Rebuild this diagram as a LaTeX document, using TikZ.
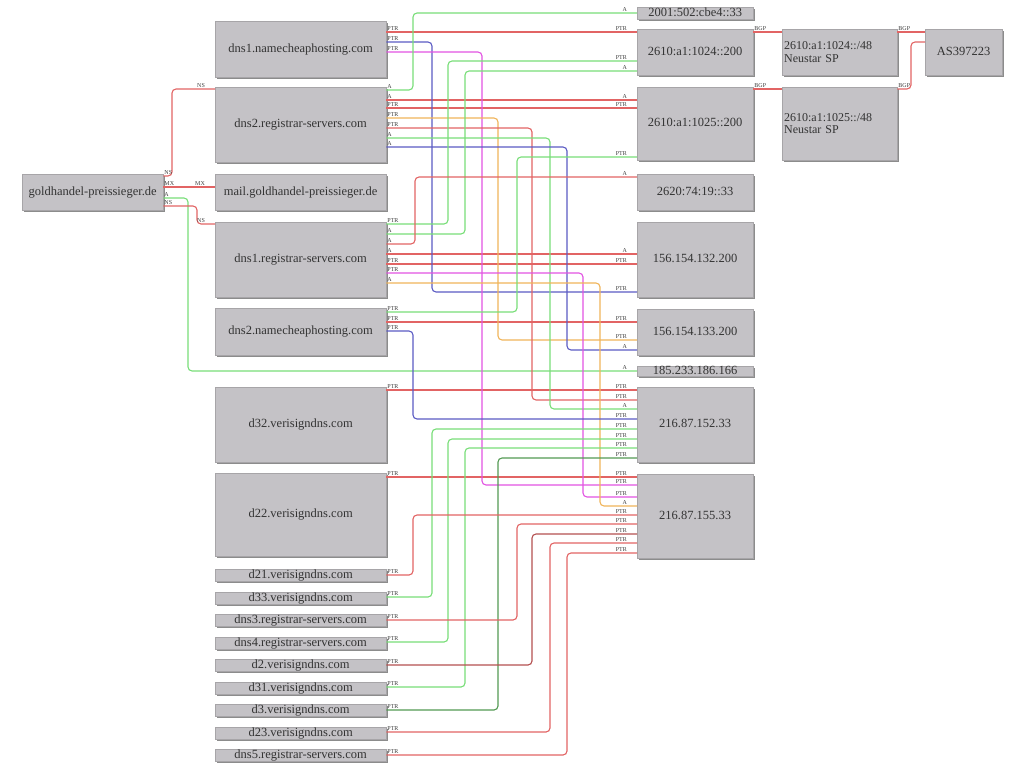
\documentclass[tikz,border=0pt]{standalone}
\usepackage{fontspec}
\setmainfont{Liberation Serif}
\usepackage{xcolor}
\definecolor{BoxGray}{RGB}{196,194,198}
\definecolor{Red}{RGB}{226,100,100}
\definecolor{Green}{RGB}{120,222,120}
\definecolor{Blue}{RGB}{92,92,196}
\definecolor{Pink}{RGB}{226,84,226}
\definecolor{Orange}{RGB}{240,180,90}
\usetikzlibrary{shadows}

% straight link: colour, from, to, y, source label, target label
\newcommand{\direct}[6]{%
  \draw[link, #1] (#2.east |- 0,#4) -- node[pos=0, srclab]{#5} node[pos=1, dstlab]{#6} (#3.west |- 0,#4);}
% routed link: colour, from, y1, x of the vertical, to, y2, source label, target label
\newcommand{\routed}[8]{%
  \draw[link, #1] (#2.east |- 0,#3) -- node[pos=0, srclab]{#7} (#4,#3) -- (#4,#6) -- node[pos=1, dstlab]{#8} (#5.west |- 0,#6);}

\begin{document}
\begin{tikzpicture}[x=1pt, y=-1pt,
  host/.style={anchor=north west, rectangle, fill=BoxGray, draw=BoxGray!85!black, line width=0.3pt,
    inner sep=0pt, text height=8pt, text depth=2pt, text=black!80, font=\fontsize{12.5}{13}\selectfont,
    drop shadow={shadow xshift=2pt, shadow yshift=-2pt, fill=black!45, opacity=1}},
  link/.style={line width=1.1pt, rounded corners=4pt},
  srclab/.style={anchor=south west, inner sep=0.6pt, font=\fontsize{6}{6}\selectfont, text=black!75},
  dstlab/.style={anchor=south east, inner sep=0.6pt, xshift=-9pt, font=\fontsize{6}{6}\selectfont, text=black!75}]

  \fill[white] (0,0) rectangle (1024,768);
  \useasboundingbox (0,0) rectangle (1024,768);

  % Domain and name servers
  \node[host, minimum width=141pt, minimum height=36pt] (gold) at (22,174) {goldhandel-preissieger.de};
  \node[host, minimum width=171pt, minimum height=56pt] (nc1) at (215,21) {dns1.namecheaphosting.com};
  \node[host, minimum width=171pt, minimum height=75pt] (rs2) at (215,87) {dns2.registrar-servers.com};
  \node[host, minimum width=171pt, minimum height=36pt] (mail) at (215,174) {mail.goldhandel-preissieger.de};
  \node[host, minimum width=171pt, minimum height=75pt] (rs1) at (215,222) {dns1.registrar-servers.com};
  \node[host, minimum width=171pt, minimum height=47pt] (nc2) at (215,308) {dns2.namecheaphosting.com};
  \node[host, minimum width=171pt, minimum height=75pt] (d32) at (215,387) {d32.verisigndns.com};
  \node[host, minimum width=171pt, minimum height=83pt] (d22) at (215,473) {d22.verisigndns.com};
  \node[host, minimum width=171pt, minimum height=12pt] (d21) at (215,569) {d21.verisigndns.com};
  \node[host, minimum width=171pt, minimum height=12pt] (d33) at (215,592) {d33.verisigndns.com};
  \node[host, minimum width=171pt, minimum height=12pt] (rs3) at (215,614) {dns3.registrar-servers.com};
  \node[host, minimum width=171pt, minimum height=12pt] (rs4) at (215,637) {dns4.registrar-servers.com};
  \node[host, minimum width=171pt, minimum height=12pt] (d2) at (215,659) {d2.verisigndns.com};
  \node[host, minimum width=171pt, minimum height=12pt] (d31) at (215,682) {d31.verisigndns.com};
  \node[host, minimum width=171pt, minimum height=12pt] (d3) at (215,704) {d3.verisigndns.com};
  \node[host, minimum width=171pt, minimum height=12pt] (d23) at (215,727) {d23.verisigndns.com};
  \node[host, minimum width=171pt, minimum height=12pt] (rs5) at (215,749) {dns5.registrar-servers.com};

  % Addresses
  \node[host, minimum width=116pt, minimum height=12pt] (v6a) at (637,7) {2001:502:cbe4::33};
  \node[host, minimum width=116pt, minimum height=46pt] (ipA) at (637,29) {2610:a1:1024::200};
  \node[host, minimum width=116pt, minimum height=73pt] (ipB) at (637,87) {2610:a1:1025::200};
  \node[host, minimum width=116pt, minimum height=36pt] (ipC) at (637,174) {2620:74:19::33};
  \node[host, minimum width=116pt, minimum height=75pt] (ipD) at (637,222) {156.154.132.200};
  \node[host, minimum width=116pt, minimum height=46pt] (ipE) at (637,309) {156.154.133.200};
  \node[host, minimum width=116pt, minimum height=10pt] (ipF) at (637,366) {185.233.186.166};
  \node[host, minimum width=116pt, minimum height=75pt] (ipG) at (637,387) {216.87.152.33};
  \node[host, minimum width=116pt, minimum height=84pt] (ipH) at (637,474) {216.87.155.33};

  % Prefixes and AS
  \node[host, minimum height=46pt, text width=111pt, align=left, text height=, text depth=, inner sep=2pt,
    font=\fontsize{12}{12.5}\selectfont] (netA) at (782,29) {2610:a1:1024::/48\\Neustar SP};
  \node[host, minimum height=73pt, text width=111pt, align=left, text height=, text depth=, inner sep=2pt,
    font=\fontsize{12}{12.5}\selectfont] (netB) at (782,87) {2610:a1:1025::/48\\Neustar SP};
  \node[host, minimum width=77pt, minimum height=46pt] (as) at (925,29) {AS397223};

  % Domain links
  \routed{Red}{gold}{176}{172}{rs2}{89}{NS}{NS}
  \direct{Red}{gold}{mail}{187}{MX}{MX}
  \routed{Green}{gold}{198}{188}{ipF}{371}{A}{A}
  \routed{Red}{gold}{206}{197}{rs1}{224}{NS}{NS}

  % Straight links
  \direct{Red}{nc1}{ipA}{32}{PTR}{PTR}
  \direct{Red}{rs2}{ipB}{100}{A}{A}
  \direct{Red}{rs2}{ipB}{108}{PTR}{PTR}
  \direct{Red}{rs1}{ipD}{254}{A}{A}
  \direct{Red}{rs1}{ipD}{264}{PTR}{PTR}
  \direct{Red}{nc2}{ipE}{322}{PTR}{PTR}
  \direct{Red}{d32}{ipG}{390}{PTR}{PTR}
  \direct{Red}{d22}{ipH}{477}{PTR}{PTR}

  % Routed links
  \routed{Blue}{nc1}{42}{432}{ipD}{292}{PTR}{PTR}
  \routed{Pink}{nc1}{52}{482}{ipH}{485}{PTR}{PTR}
  \routed{Green}{rs2}{90}{413}{v6a}{13}{A}{A}
  \routed{Orange}{rs2}{118}{498}{ipE}{340}{PTR}{PTR}
  \routed{Red}{rs2}{128}{532}{ipG}{400}{PTR}{PTR}
  \routed{Green}{rs2}{138}{550}{ipG}{409}{A}{A}
  \routed{Blue}{rs2}{147}{567}{ipE}{350}{A}{A}
  \routed{Green}{rs1}{224}{448}{ipA}{61}{PTR}{PTR}
  \routed{Green}{rs1}{234}{465}{ipA}{71}{A}{A}
  \routed{Red}{rs1}{244}{415}{ipC}{177}{A}{A}
  \routed{Pink}{rs1}{273}{583}{ipH}{497}{PTR}{PTR}
  \routed{Orange}{rs1}{283}{600}{ipH}{506}{A}{A}
  \routed{Green}{nc2}{312}{517}{ipB}{157}{PTR}{PTR}
  \routed{Blue}{nc2}{331}{413}{ipG}{419}{PTR}{PTR}
  \routed{Green}{d33}{597}{432}{ipG}{429}{PTR}{PTR}
  \routed{Green}{rs4}{642}{448}{ipG}{439}{PTR}{PTR}
  \routed{Green}{d31}{687}{465}{ipG}{448}{PTR}{PTR}
  \routed{Green!70!black}{d3}{710}{498}{ipG}{458}{PTR}{PTR}
  \routed{Red}{d21}{575}{413}{ipH}{515}{PTR}{PTR}
  \routed{Red}{rs3}{620}{517}{ipH}{524}{PTR}{PTR}
  \routed{Red!80!black}{d2}{665}{532}{ipH}{534}{PTR}{PTR}
  \routed{Red}{d23}{732}{550}{ipH}{543}{PTR}{PTR}
  \routed{Red}{rs5}{755}{567}{ipH}{553}{PTR}{PTR}

  % Prefix links
  \direct{Red}{ipA}{netA}{32}{BGP}{}
  \direct{Red}{ipB}{netB}{89}{BGP}{}
  \direct{Red}{netA}{as}{32}{BGP}{}
  \routed{Red}{netB}{89}{911}{as}{42}{BGP}{}

\end{tikzpicture}
\end{document}
